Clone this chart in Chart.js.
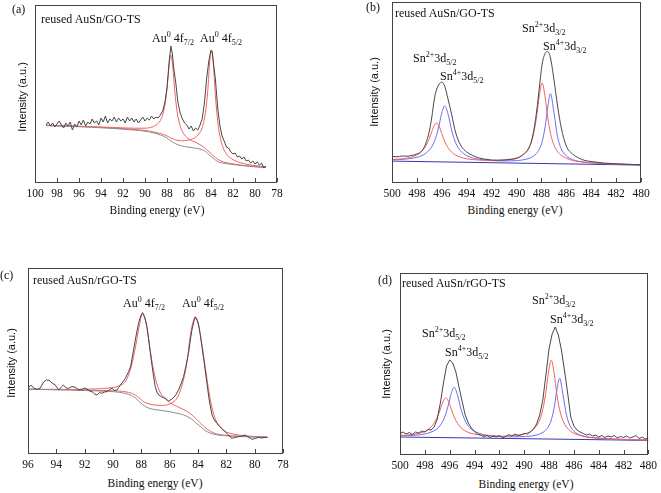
<!DOCTYPE html>
<html><head><meta charset="utf-8">
<script src="https://cdn.jsdelivr.net/npm/chart.js@4.4.0/dist/chart.umd.min.js"></script>
<style>
html,body{margin:0;padding:0;background:#fff;overflow:hidden;width:661px;height:493px;position:relative}
canvas{position:absolute}
.t{position:absolute;font-family:"Liberation Serif","Times New Roman",serif;font-size:12px;line-height:14px;color:#111;white-space:nowrap}
.t sup{font-size:8px;vertical-align:5px;line-height:0}
.t sub{font-size:8px;vertical-align:-3px;line-height:0}
.yl{position:absolute;font-family:"Liberation Sans",Arial,sans-serif;font-size:11px;line-height:12px;color:#111;white-space:nowrap;transform:translate(-50%,-50%) rotate(-90deg)}
.xl{position:absolute;font-family:"Liberation Serif","Times New Roman",serif;font-size:11.5px;line-height:14px;color:#111;white-space:nowrap;transform:translateX(-50%)}
</style></head><body>
<canvas id="ca" width="272" height="200" style="left:20px;top:3px"></canvas>
<canvas id="cb" width="279" height="203" style="left:377px;top:0px"></canvas>
<canvas id="cc" width="285" height="208" style="left:13px;top:266px"></canvas>
<canvas id="cd" width="276" height="204" style="left:385px;top:271px"></canvas>

<div class="t" style="left:12px;top:2px">(a)</div>
<div class="t" style="left:366px;top:0px">(b)</div>
<div class="t" style="left:0px;top:268px">(c)</div>
<div class="t" style="left:378px;top:273px">(d)</div>

<div class="t" style="left:41px;top:12px">reused AuSn/GO-TS</div>
<div class="t" style="left:395px;top:6px">reused AuSn/GO-TS</div>
<div class="t" style="left:33px;top:273px">reused AuSn/rGO-TS</div>
<div class="t" style="left:402px;top:276px">reused AuSn/rGO-TS</div>

<div class="t" style="left:152px;top:31px">Au<sup>0</sup> 4f<sub>7/2</sub></div>
<div class="t" style="left:200px;top:31px">Au<sup>0</sup> 4f<sub>5/2</sub></div>
<div class="t" style="left:123px;top:296px">Au<sup>0</sup> 4f<sub>7/2</sub></div>
<div class="t" style="left:182px;top:296px">Au<sup>0</sup> 4f<sub>5/2</sub></div>

<div class="t" style="left:413px;top:51px">Sn<sup>2+</sup>3d<sub>5/2</sub></div>
<div class="t" style="left:440px;top:69px">Sn<sup>4+</sup>3d<sub>5/2</sub></div>
<div class="t" style="left:522px;top:21px">Sn<sup>2+</sup>3d<sub>3/2</sub></div>
<div class="t" style="left:543px;top:39px">Sn<sup>4+</sup>3d<sub>3/2</sub></div>

<div class="t" style="left:422px;top:326px">Sn<sup>2+</sup>3d<sub>5/2</sub></div>
<div class="t" style="left:445px;top:345px">Sn<sup>4+</sup>3d<sub>5/2</sub></div>
<div class="t" style="left:532px;top:293px">Sn<sup>2+</sup>3d<sub>3/2</sub></div>
<div class="t" style="left:550px;top:312px">Sn<sup>4+</sup>3d<sub>3/2</sub></div>

<div class="yl" style="left:22px;top:97px">Intensity (a.u.)</div>
<div class="yl" style="left:374px;top:92px">Intensity (a.u.)</div>
<div class="yl" style="left:11px;top:363px">Intensity (a.u.)</div>
<div class="yl" style="left:386px;top:364px">Intensity (a.u.)</div>

<div class="xl" style="left:157px;top:203px">Binding energy (eV)</div>
<div class="xl" style="left:515px;top:203px">Binding energy (eV)</div>
<div class="xl" style="left:155px;top:476px">Binding energy (eV)</div>
<div class="xl" style="left:526px;top:477px">Binding energy (eV)</div>

<script>
// ---------- Panel (a): reused AuSn/GO-TS, Au 4f ----------
const aE = [99,97,95,93,91,90,89.5,89,88.6,88.3,88.1,87.9,87.75,87.64,87.5,87.35,87.2,87.0,86.7,86.4,86.0,85.7,85.4,85.1,84.8,84.5,84.3,84.1,83.94,83.8,83.6,83.4,83.2,82.9,82.5,82,81,80,79];
const aBackground = [57.3,56.7,55.8,54.6,53.0,51.8,50.8,49.5,48.0,46.8,45.5,44.0,42.8,42.0,41.0,40.0,39.2,38.2,37.2,36.5,35.8,35.3,34.8,34.2,33.2,31.5,29.5,27.5,26.0,24.8,23.0,21.5,20.5,19.8,19.2,18.5,17.2,16.2,15.4];
const aPeak72 = [57.7,57.1,56.4,55.6,54.8,54.8,55.5,57.8,62.6,71.8,84.8,106.2,123.3,128,118.8,99.2,81.6,66,53.8,48,44,42.2,40.7,39,37,34.5,32.5,30.5,28.9,27.4,25.5,23.8,22.5,21.2,20.1,19.1,17.5,16.4,15.7];
const aPeak52 = [57.6,57.0,56.2,55.1,53.6,52.6,51.7,50.6,49.5,48.5,47.6,46.5,45.7,45.0,44.3,43.7,43.1,42.5,42.2,42.3,43.0,44.0,45.8,48.9,55.3,70.6,91.4,123.4,132.3,120.5,87.7,62.4,47.3,35.3,27.8,23.4,19.3,17.4,16.3];
const aRaw = [[99.0,58],[98.8,61],[98.6,57],[98.4,60],[98.2,56],[98.0,59],[97.8,62],[97.6,58],[97.4,55],[97.2,60],[97.0,57],[96.8,61],[96.6,53],[96.4,59],[96.2,56],[96.0,62],[95.8,58],[95.6,63],[95.4,57],[95.2,61],[95.0,59],[94.8,64],[94.6,60],[94.4,62],[94.2,58],[94.0,65],[93.8,61],[93.6,67],[93.4,60],[93.2,64],[93.0,62],[92.8,66],[92.6,61],[92.4,65],[92.2,62],[92.0,64],[91.8,60],[91.6,66],[91.4,62],[91.2,65],[91.0,61],[90.8,64],[90.6,60],[90.4,63],[90.2,66],[90.0,62],[89.8,65],[89.6,63],[89.4,67],[89.2,64],[89.0,66],[88.8,65],[88.6,68],[88.4,72],[88.2,80],[88.0,95],[87.8,122],[87.64,137],[87.5,128],[87.4,116],[87.2,100],[87.0,80],[86.8,70],[86.6,64],[86.4,60],[86.2,58],[86.0,54],[85.8,57],[85.6,52],[85.4,55],[85.2,53],[85.0,58],[84.8,64],[84.6,80],[84.4,104],[84.2,122],[84.0,133],[83.9,132],[83.8,122],[83.6,104],[83.4,76],[83.2,58],[83.0,47],[82.8,42],[82.6,36],[82.4,35],[82.2,31],[82.0,29],[81.8,30],[81.6,26],[81.4,27],[81.2,24],[81.0,26],[80.8,22],[80.6,23],[80.4,20],[80.2,22],[80.0,19],[79.8,21],[79.6,18],[79.4,20],[79.2,15],[79.0,17]];

// ---------- Panel (b): reused AuSn/GO-TS, Sn 3d ----------
const bE = [500,499.5,499,498.5,498,497.6,497.3,497.0,496.8,496.6,496.43,496.2,496.0,495.76,495.5,495.2,494.9,494.5,494,493.5,493,492,491,490,489.5,489,488.7,488.4,488.15,487.94,487.7,487.5,487.27,487.0,486.7,486.4,486.0,485.5,485,484,483,482,481,480];
const bSn2 = [23.5,23.9,24.5,25.7,28.1,31.9,36.8,44.7,51.6,57.9,60.0,56.3,49.4,41.5,35.3,30.8,28.0,25.8,24.2,23.4,22.9,22.5,23.0,25.2,28.2,35.5,45.5,64.9,88.8,99.9,85.8,66.3,49.7,38.3,31.4,27.6,24.7,22.6,21.5,20.2,19.5,19.0,18.6,18.3];
const bSn4 = [23.2,23.4,23.8,24.5,25.7,27.4,29.5,33.0,36.4,41.5,47.6,58.9,70.1,77.2,69.0,52.4,40.6,32.3,27.4,25.0,23.7,22.5,22.1,22.4,23.1,24.6,26.4,29.5,34.3,41.4,56.2,74.9,89.3,70.8,46.3,34.1,27.1,23.4,21.7,20.1,19.4,18.9,18.6,18.3];
const bBase = [[500,21.9],[480,17.9]];
const bRaw = [[500,26.5],[499.6,26.2],[499.2,27.0],[498.8,26.8],[498.4,27.6],[498,29],[497.6,32],[497.3,39],[497.0,52],[496.8,66],[496.6,84],[496.43,93],[496.2,99],[496.0,101],[495.76,96.5],[495.5,84],[495.2,68],[494.9,51],[494.5,38],[494,31],[493.5,27.5],[493,25],[492.5,23.8],[492,23],[491.5,22.8],[491,23],[490.5,23.5],[490,24.5],[489.5,28],[489,35],[488.7,47],[488.4,70],[488.15,97],[487.94,119],[487.7,129.5],[487.5,131.5],[487.27,125],[487.0,104],[486.7,77],[486.4,55],[486,37],[485.5,29],[485,25],[484.5,22.5],[484,21.5],[483,20],[482,19.2],[481,18.6],[480,18.2]];

// ---------- Panel (c): reused AuSn/rGO-TS, Au 4f ----------
const cE = [96,95,94,93,92,91,90.3,89.6,89.1,88.7,88.4,88.15,87.91,87.65,87.4,87.15,86.9,86.6,86.3,86.0,85.7,85.4,85.1,84.8,84.55,84.35,84.19,84.0,83.75,83.5,83.2,82.9,82.6,82.2,81.5,80.5,79.1];
const cBackground = [64.7,64.5,64.2,63.9,63.5,63.0,62.6,61.8,60.5,58.5,55.8,52.5,49.5,47.0,45.5,44.7,44.2,43.6,43.0,42.3,41.4,40.5,39.5,37.8,35.8,33.8,31.5,29.5,26.5,23.5,21.3,19.8,19.0,18.4,17.8,17.2,16.7];
const cPeak72 = [64.8,64.7,64.6,64.6,64.7,65.2,66.0,68.0,73.0,88.0,108,128,140.7,130,106,85,70,60,55,51.5,49,47,45,42.8,40.5,38.3,36,33.4,30,26.5,23.4,21.2,19.8,18.9,18.1,17.4,16.8];
const cPeak52 = [64.8,64.6,64.4,64.2,63.9,63.6,63.4,63.0,62.2,60.8,58.8,56.0,53.0,51.0,49.8,49.2,48.8,48.6,48.8,50.0,52.5,58.0,70.0,90.0,118,132,137.3,132,112,88,60,40,30,23.5,20,18,16.9];
const cRaw = [[96.0,65.7],[95.8,69],[95.6,66],[95.35,64.5],[95.13,66],[94.9,72],[94.7,74],[94.5,73.5],[94.3,71],[94.07,69],[93.84,64],[93.65,67],[93.5,69],[93.3,66],[93.13,65.7],[92.9,67.5],[92.66,66.7],[92.4,64],[92.19,64.7],[92.0,66],[91.84,65],[91.65,63],[91.48,62.3],[91.3,60],[91.13,59],[90.95,61.5],[90.78,60.7],[90.6,62],[90.42,62.3],[90.25,64.5],[90.07,65.7],[89.9,63.5],[89.72,64],[89.6,66.5],[89.49,69],[89.3,72],[89.13,75.7],[88.9,82.3],[88.75,88],[88.55,104],[88.4,116],[88.2,130.7],[88.05,138],[87.91,141.3],[87.75,136],[87.6,127.3],[87.45,111],[87.3,94],[87.15,79],[87.02,67.3],[86.9,62],[86.78,59],[86.55,57],[86.31,55.7],[86.08,53],[85.9,54.5],[85.72,56.3],[85.55,59.5],[85.37,64],[85.2,70],[85.02,77.3],[84.85,88],[84.67,100.7],[84.55,113],[84.43,124],[84.3,132],[84.19,136.7],[84.07,134],[83.96,129],[83.84,119],[83.72,107.3],[83.55,90],[83.37,70.7],[83.2,53],[83.01,39],[82.85,34],[82.66,30.7],[82.5,28],[82.31,25.7],[82.15,23],[81.96,20.7],[81.8,18],[81.6,15.7],[81.4,16.5],[81.14,17.3],[80.9,18],[80.67,19],[80.45,17],[80.19,14.7],[79.95,15.5],[79.73,16.7],[79.5,16],[79.25,16.7],[79.1,16.5]];

// ---------- Panel (d): reused AuSn/rGO-TS, Sn 3d ----------
const dE = [500,499.38,498.88,498.38,497.88,497.48,497.18,496.88,496.68,496.48,496.31,496.08,495.88,495.64,495.38,495.08,494.78,494.38,493.88,493.38,492.88,491.88,490.88,489.88,489.38,488.88,488.58,488.28,488.03,487.82,487.58,487.38,487.15,486.88,486.58,486.28,485.88,485.38,484.88,483.88,482.88,481.88,480.88,480];
const dSn2 = [19.6,20.0,20.7,21.9,24.3,28.2,33.3,41.3,48.4,54.8,57.0,53.1,46.2,38.1,31.8,27.2,24.3,22.1,20.6,19.7,19.2,18.8,19.3,21.5,24.5,31.6,41.4,60.4,83.9,94.8,81.0,61.8,45.5,34.4,27.7,23.9,21.0,19.1,17.9,16.8,16.1,15.6,15.2,15.0];
const dSn4 = [19.2,19.4,19.7,20.3,21.4,23.0,24.8,27.9,31.0,35.6,41.2,51.3,61.4,67.8,60.4,45.5,34.9,27.3,23.0,20.8,19.7,18.5,18.2,18.5,19.1,20.4,22.0,24.7,28.8,35.0,47.9,64.1,76.7,60.6,39.2,28.7,22.6,19.4,17.9,16.6,15.9,15.4,15.1,14.9];
const dBase = [[500,18.0],[480,14.6]];
const dRaw = [[500.0,21.5],[499.75,23],[499.5,21],[499.25,22.5],[499.0,20.5],[498.75,23],[498.5,22],[498.25,24],[498.0,23],[497.75,25.5],[497.5,25],[497.25,28],[497.0,36],[496.75,52],[496.5,72],[496.25,89],[496.0,95],[495.75,92],[495.5,83],[495.25,68],[495.0,54],[494.75,40],[494.5,32],[494.25,27],[494.0,23.5],[493.75,21],[493.5,20],[493.25,18],[493.0,19.5],[492.75,17.5],[492.5,19],[492.25,18],[492.0,19.5],[491.75,17],[491.5,18.5],[491.25,20.5],[491.0,19],[490.75,21],[490.5,19.5],[490.25,20],[490.0,21.5],[489.75,21],[489.5,23],[489.25,26],[489.0,31],[488.75,40],[488.5,55],[488.25,80],[488.0,106],[487.75,121],[487.5,128],[487.25,120],[487.0,105],[486.75,84],[486.5,62],[486.25,38],[486.0,29],[485.75,25],[485.5,23],[485.25,21.5],[485.0,20],[484.75,21],[484.5,19],[484.25,20],[484.0,18],[483.75,19.5],[483.5,17.5],[483.25,19],[483.0,18],[482.75,19.5],[482.5,17],[482.25,18.5],[482.0,17.5],[481.75,19],[481.5,17],[481.25,18],[481.0,19.5],[480.75,16.5],[480.5,18],[480.25,16],[480.0,17]];

// ---------- helpers ----------
const zip = (xs, ys) => xs.map((x, i) => ({x: x, y: ys[i]}));
const pairs = arr => arr.map(p => ({x: p[0], y: p[1]}));
const RAW = '#474747', GRAY = '#8c8c8c', RED = '#f26262', BLUE = '#6c6cf5', BASE = '#3838b0';
const SERIF = '"Liberation Serif", "Times New Roman", Times, serif';

function ds(data, color, smooth) {
  return {data: data, borderColor: color, borderWidth: 1, pointRadius: 0, fill: false,
          tension: 0, cubicInterpolationMode: smooth ? 'monotone' : 'default'};
}

const framePlugin = {
  id: 'frame',
  afterDraw(chart) {
    const a = chart.chartArea, ctx = chart.ctx, xs = chart.scales.x;
    ctx.save();
    ctx.strokeStyle = '#444';
    ctx.lineWidth = 1;
    ctx.strokeRect(Math.round(a.left) + 0.5, Math.round(a.top) + 0.5,
                   Math.round(a.right - a.left) - 1, Math.round(a.bottom - a.top) - 1);
    ctx.beginPath();
    xs.ticks.forEach(t => {
      const px = Math.round(xs.getPixelForValue(t.value)) + 0.5;
      ctx.moveTo(px, a.bottom - 1);
      ctx.lineTo(px, a.bottom - 5);
    });
    ctx.stroke();
    ctx.restore();
  }
};

function makeChart(id, xmin, xmax, ymax, datasets, padRight) {
  return new Chart(document.getElementById(id), {
    type: 'line',
    data: {datasets: datasets},
    options: {
      responsive: false, animation: false, devicePixelRatio: 1,
      layout: {padding: {left: 15, right: padRight, top: 2, bottom: 0}},
      plugins: {legend: {display: false}, tooltip: {enabled: false}},
      elements: {point: {radius: 0}},
      scales: {
        x: {type: 'linear', reverse: true, min: xmin, max: xmax,
            grid: {display: false, drawTicks: false}, border: {display: false},
            ticks: {stepSize: 2, padding: 4, color: '#111', maxRotation: 0, autoSkip: false,
                    font: {family: SERIF, size: 11.5}},
            afterFit: s => { s.height = 20; }},
        y: {display: false, min: 0, max: ymax}
      }
    },
    plugins: [framePlugin]
  });
}

function drawAll() {
  makeChart('ca', 78, 100, 178, [
    ds(pairs(aRaw), RAW, false),
    ds(zip(aE, aBackground), GRAY, true),
    ds(zip(aE, aPeak72), RED, true),
    ds(zip(aE, aPeak52), RED, true)
  ], 15);

  makeChart('cb', 480, 500, 181, [
    ds(pairs(bRaw), RAW, true),
    ds(zip(bE, bSn2), RED, true),
    ds(zip(bE, bSn4), BLUE, true),
    ds(pairs(bBase), BASE, false)
  ], 15);

  makeChart('cc', 78, 96, 186, [
    ds(pairs(cRaw), RAW, false),
    ds(zip(cE, cBackground), GRAY, true),
    ds(zip(cE, cPeak72), RED, true),
    ds(zip(cE, cPeak52), RED, true)
  ], 15);

  makeChart('cd', 480, 500, 182, [
    ds(pairs(dRaw), RAW, false),
    ds(zip(dE, dSn2), RED, true),
    ds(zip(dE, dSn4), BLUE, true),
    ds(pairs(dBase), BASE, false)
  ], 10);
}

let done = false;
function go() { if (!done) { done = true; drawAll(); } }
if (document.fonts && document.fonts.load) {
  document.fonts.load('12px "Liberation Serif"').then(go, go);
  setTimeout(go, 300);
} else { go(); }
</script>
</body></html>
